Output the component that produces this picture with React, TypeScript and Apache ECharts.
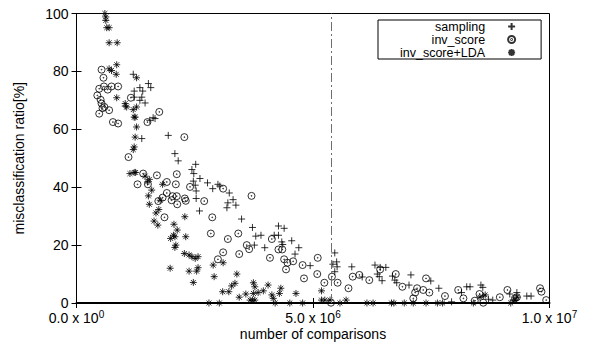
import React, { useEffect, useRef } from "react";
import * as echarts from "echarts";

// x values in units of 1e6 comparisons, y in %
const samplingX = [1.20,1.34,1.52,1.57,1.22,1.40,1.22,1.38,1.34,1.45,1.03,1.66,1.62,1.55,1.38,1.94,2.08,2.15,2.44,2.52,2.48,2.61,2.77,2.47,2.51,2.88,2.99,3.03,2.53,3.23,2.53,3.31,3.20,3.37,3.18,2.60,3.49,3.72,3.79,3.76,3.90,3.98,4.27,4.39,4.18,4.27,4.34,4.36,4.55,4.70,4.62,4.94,5.46,5.50,5.51,5.42,5.46,5.82,6.31,6.42,6.54,6.36,6.40,6.46,6.68,6.73,6.77,7.07,7.03,7.49,7.66,7.93,8.14,8.25,8.32,8.55,8.59,8.60,8.71,8.80,9.16,9.31,9.23,9.52,9.61,6.04];
const samplingY = [79.0,74.4,75.8,74.4,73.2,73.2,71.1,71.1,70.0,69.1,68.0,63.7,64.0,63.1,56.8,57.9,51.6,49.1,46.1,47.9,44.7,43.0,41.5,42.1,40.7,39.5,41.0,40.4,38.7,38.0,36.1,35.7,34.6,33.8,32.9,31.8,29.0,26.1,23.1,20.0,23.4,19.1,26.6,25.8,23.4,23.4,21.1,20.2,21.5,19.1,16.9,12.9,17.3,14.2,12.5,13.4,10.8,12.5,13.1,12.3,12.3,10.0,9.1,7.7,9.3,7.9,7.0,9.7,6.2,7.6,5.1,0.4,3.6,5.6,5.6,6.2,5.4,2.4,1.3,1.0,3.1,3.6,1.0,2.4,2.4,9.0];

const invScoreX = [0.53,0.57,0.48,0.58,0.66,0.74,0.88,0.44,0.51,0.53,0.59,0.48,0.69,0.55,1.15,1.75,0.77,0.88,1.50,2.28,1.10,1.41,1.70,2.12,1.29,1.51,1.91,2.10,2.40,1.91,2.03,2.12,1.82,2.01,1.73,2.13,2.29,2.31,2.70,3.10,3.70,1.86,2.87,2.84,3.20,3.42,3.60,3.65,3.10,2.99,3.44,4.13,4.27,4.35,4.09,4.39,4.46,4.58,4.43,4.78,5.10,4.81,5.09,5.24,5.40,5.52,5.75,5.84,5.98,6.19,6.42,6.75,6.89,7.20,7.33,7.39,7.46,7.16,7.12,5.38,7.79,8.07,8.18,8.42,8.60,8.52,8.95,9.11,9.27,9.31,9.80,9.83,9.93];
const invScoreY = [80.6,77.8,74.0,74.8,73.7,74.8,74.8,71.7,70.2,68.9,67.7,65.4,66.6,67.3,70.9,66.0,62.5,62.0,62.5,57.3,50.4,44.7,44.1,44.5,41.0,41.0,41.8,41.0,40.1,38.0,36.9,36.9,36.4,35.5,35.2,34.1,36.1,35.3,35.2,39.5,37.0,29.6,29.6,24.0,22.1,24.0,20.0,18.6,17.5,15.1,16.9,22.1,18.5,18.5,15.6,15.1,13.9,14.4,11.6,13.1,15.6,8.5,10.0,7.0,9.1,7.0,5.1,9.1,9.7,7.9,11.6,10.0,5.6,5.1,4.5,8.5,3.6,3.6,1.6,0.1,2.4,4.5,1.6,0.8,0.1,3.1,2.0,4.5,1.6,2.0,5.1,3.9,1.0];

const ldaX = [0.60,0.62,0.62,0.64,0.69,0.69,0.86,0.69,0.74,0.85,0.84,1.27,0.85,1.03,1.06,1.20,1.22,1.27,1.24,1.27,1.24,1.22,1.20,1.13,1.22,1.25,1.45,1.54,1.50,1.82,1.59,1.52,1.77,1.54,1.74,1.68,1.64,1.72,2.06,2.13,2.29,2.05,1.99,2.08,2.10,2.08,2.31,2.28,2.38,2.44,2.51,2.57,1.98,2.38,2.54,2.57,2.47,2.89,2.91,3.09,3.22,3.39,3.35,3.28,3.44,3.74,3.77,3.58,3.67,3.72,2.80,3.02,3.84,3.10,4.05,3.95,3.74,4.13,4.16,4.29,4.32,4.64,5.18,5.18,5.25,5.36,4.20,4.51,4.78,5.57,5.70,6.14,6.27,6.66,6.71,6.93,7.12,7.39,7.63,7.74,8.39,8.53,8.64,9.18,9.27,9.31,3.77];
const ldaY = [100,98.8,97.6,95.1,95.1,89.9,89.9,80.9,80.3,82.3,79.0,77.8,70.9,68.9,67.7,66.8,64.2,67.7,64.2,60.8,57.3,53.9,53.0,44.7,45.1,45.1,43.8,42.7,41.8,41.0,39.0,37.0,35.5,34.1,32.3,31.1,28.3,26.9,27.2,25.2,29.8,23.4,22.3,22.9,20.0,19.2,22.9,17.1,16.6,16.0,15.4,16.0,12.0,11.0,11.0,12.2,7.1,13.1,9.1,3.9,3.9,10.0,6.8,5.9,2.0,7.0,5.6,3.1,1.0,1.0,0,0,3.6,13.9,6.2,4.2,3.3,2.8,1.6,3.3,5.1,3.3,4.2,1.0,1.0,1.0,0,0,0,0,1.0,0,0,0,0,0,0,0,0,0,0,2.0,2.8,0,1.0,2.0,1.0];

const seriesNames = ["sampling", "inv_score", "inv_score+LDA"];
const splitLineX = 5.38; // million comparisons
const xTickMantissa = ["0.0", "5.0", "1.0"];
const xTickExponent = ["0", "6", "7"];
const yTicks = [0, 20, 40, 60, 80, 100];

const PLUS = "path://M0,5L10,5M5,0L5,10";
const CIRCLE_DOT = "path://M10,5A5,5,0,1,1,0,5A5,5,0,1,1,10,5ZM5.6,5A0.6,0.6,0,1,1,4.4,5A0.6,0.6,0,1,1,5.6,5Z";
const STAR = "path://M0,5L10,5M5,0L5,10M1.5,1.5L8.5,8.5M1.5,8.5L8.5,1.5";

const FONT = "'Liberation Sans', Arial, Helvetica, sans-serif";

function pairs(xs: number[], ys: number[]) {
  return xs.map((x, i) => [x * 1e6, ys[i]]);
}

export default function App() {
  const ref = useRef<HTMLDivElement>(null);
  useEffect(() => {
    if (!ref.current) return;
    const chart = echarts.init(ref.current, null, { renderer: "svg" });
    const symStyle = { color: "rgba(0,0,0,0)", borderColor: "#000", borderWidth: 1 };
    const tickStyle = { show: true, inside: true, length: 5, lineStyle: { color: "#000", width: 1 } };
    chart.setOption({
      animation: false,
      textStyle: { fontFamily: FONT },
      grid: { left: 76.5, right: 40.5, top: 13.5, bottom: 46, show: true, borderColor: "#000", borderWidth: 1, backgroundColor: "transparent" },
      legend: {
        orient: "vertical",
        align: "right",
        left: 378,
        top: 20,
        padding: [0, 25, 0, 22],
        itemGap: 0,
        itemWidth: 7,
        itemHeight: 7,
        borderColor: "#000",
        borderWidth: 1,
        data: seriesNames,
        textStyle: { fontSize: 12.5, color: "#000", fontFamily: FONT, padding: [0, 18, 0, 0] },
      },
      xAxis: [
        {
          type: "value",
          min: 0,
          max: 1e7,
          interval: 5e6,
          position: "bottom",
          splitLine: { show: false },
          axisLine: { show: true, onZero: false, lineStyle: { color: "#000", width: 2 } },
          axisTick: tickStyle,
          axisLabel: {
            margin: 6.5,
            color: "#000",
            formatter: (v: number) => {
              const i = Math.round(v / 5e6);
              return `{b|${xTickMantissa[i]} x 10}{s|${xTickExponent[i]}}`;
            },
            rich: {
              b: { fontSize: 14, fontFamily: FONT, color: "#000", verticalAlign: "bottom", lineHeight: 15 },
              s: { fontSize: 10, fontFamily: FONT, color: "#000", verticalAlign: "top", lineHeight: 10 },
            },
          },
          name: "number of comparisons",
          nameLocation: "middle",
          nameGap: 23.5,
          nameMoveOverlap: false,
          nameTextStyle: { fontSize: 14, color: "#000", fontFamily: FONT },
        },
        {
          type: "value",
          min: 0,
          max: 1e7,
          interval: 5e6,
          position: "top",
          splitLine: { show: false },
          axisLine: { show: false },
          axisTick: tickStyle,
          axisLabel: { show: false },
        },
      ],
      yAxis: [
        {
          type: "value",
          min: 0,
          max: 100,
          interval: 20,
          position: "left",
          splitLine: { show: false },
          axisLine: { show: true, onZero: false, lineStyle: { color: "#000", width: 1 } },
          axisTick: tickStyle,
          axisLabel: { margin: 8, fontSize: 14, color: "#000", fontFamily: FONT, customValues: yTicks },
          name: "misclassification ratio[%]",
          nameLocation: "middle",
          nameGap: 51,
          nameMoveOverlap: false,
          nameTextStyle: { fontSize: 14, color: "#000", fontFamily: FONT },
        },
        {
          type: "value",
          min: 0,
          max: 100,
          interval: 20,
          position: "right",
          splitLine: { show: false },
          axisLine: { show: false },
          axisTick: tickStyle,
          axisLabel: { show: false },
        },
      ],
      series: [
        {
          name: seriesNames[0],
          type: "scatter",
          symbol: PLUS,
          symbolSize: 7,
          clip: false,
          itemStyle: symStyle,
          data: pairs(samplingX, samplingY),
          markLine: {
            silent: true,
            symbol: ["none", "none"],
            label: { show: false },
            lineStyle: { color: "#6e6e6e", width: 1, type: [9, 3, 2, 3] },
            data: [{ xAxis: splitLineX * 1e6 }],
          },
        },
        {
          name: seriesNames[1],
          type: "scatter",
          symbol: CIRCLE_DOT,
          symbolSize: 7,
          clip: false,
          itemStyle: symStyle,
          data: pairs(invScoreX, invScoreY),
        },
        {
          name: seriesNames[2],
          type: "scatter",
          symbol: STAR,
          symbolSize: 7,
          clip: false,
          itemStyle: symStyle,
          data: pairs(ldaX, ldaY),
        },
      ],
    });
    return () => chart.dispose();
  }, []);
  return <div ref={ref} style={{ width: 590, height: 349, position: "absolute", left: 0, top: 0 }} />;
}
